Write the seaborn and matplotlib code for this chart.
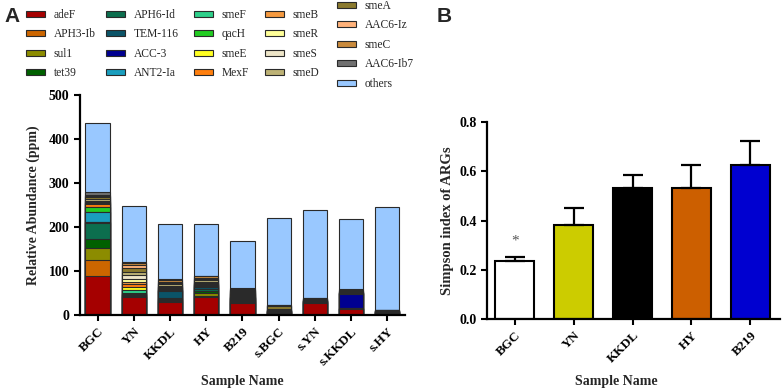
import numpy as np
import pandas as pd
import matplotlib
matplotlib.use('Agg')
import matplotlib.pyplot as plt
from matplotlib.patches import Patch
import seaborn as sns

# panel A: relative abundance of ARGs (ppm)
samples = ['BGC', 'YN', 'KKDL', 'HY', 'B219', 's.BGC', 's.YN', 's.KKDL', 's.HY']
genes = ['adeF', 'APH3-Ib', 'sul1', 'tet39', 'APH6-Id', 'TEM-116', 'ACC-3', 'ANT2-Ia',
         'smeF', 'qacH', 'smeE', 'MexF', 'smeB', 'smeR', 'smeS', 'smeD',
         'smeA', 'AAC6-Iz', 'smeC', 'AAC6-Ib7', 'others']
gene_colors = ['#a50000', '#cc6600', '#8c8c00', '#006000', '#0c6e4e', '#0b5468', '#000090', '#1a9ebe',
               '#2ed08a', '#22cc22', '#ffff22', '#ff7f0e', '#f59a40', '#ffff99', '#ede5c8', '#bdb276',
               '#8b7a2e', '#ffb27a', '#c98a3c', '#707070', '#99c8ff']

adeF = [90, 41, 30, 41, 28, 6, 27, 13, 6]
aph3_ib = [35, 1, 1, 2, 1, 0.5, 0.5, 0.5, 0.3]
sul1 = [27, 2, 3, 8, 3, 1, 2, 1, 0.5]
tet39 = [21, 2, 3, 4, 2, 0.5, 1, 0.5, 0.3]
aph6_id = [36, 2, 2, 5, 2, 0.5, 0.5, 0.5, 0.3]
tem116 = [3, 1, 15, 4, 2, 0.5, 0.5, 0.5, 0.3]
acc3 = [0, 0, 1, 1, 1, 0.5, 0.5, 33, 0.5]
ant2_ia = [23, 1, 1, 2, 1, 0.5, 0.5, 0.5, 0.3]
smeF = [0, 6, 1, 1, 1, 0, 0, 0, 0]
qacH = [10, 2, 1, 1, 1, 0, 0, 0, 0]
smeE = [0, 5, 1, 1, 2, 0.5, 0.5, 0.5, 0.3]
mexF = [8, 7, 2, 1, 2, 0.5, 0.5, 0.5, 0.3]
smeB = [2, 6, 2, 1, 2, 0.5, 0.5, 0.5, 0.3]
smeR = [2, 6, 2, 2, 2, 0.5, 0.5, 0.5, 0.3]
smeS = [2, 10, 2, 2, 2, 0.5, 0.5, 0.5, 0.3]
smeD = [4, 7, 3, 3, 2, 1, 1, 1, 0.5]
smeA = [5, 7, 4, 4, 2, 7, 1, 2, 0.5]
aac6_iz = [2, 8, 2, 2, 2, 0.5, 0.5, 0.5, 0.3]
smeC = [4, 5, 3, 3, 2, 1, 1, 1, 0.5]
aac6_ib7 = [5, 2, 3, 2, 2, 1, 1, 2, 1]
others = [157, 127, 124, 116, 106, 197, 198.5, 159.5, 232]

# panel B: Simpson index
samples_b = ['BGC', 'YN', 'KKDL', 'HY', 'B219']
simpson = [0.234, 0.381, 0.533, 0.533, 0.624]
simpson_err = [0.016, 0.071, 0.052, 0.091, 0.097]
colors_b = ['#ffffff', '#cccc00', '#000000', '#cc5f00', '#0000d0']

abund = pd.DataFrame(
    np.array([adeF, aph3_ib, sul1, tet39, aph6_id, tem116, acc3, ant2_ia, smeF, qacH, smeE,
              mexF, smeB, smeR, smeS, smeD, smeA, aac6_iz, smeC, aac6_ib7, others]).T,
    index=samples, columns=genes)
cum = abund.cumsum(axis=1)

sns.set_style('ticks')
plt.rcParams['font.family'] = ['Liberation Serif', 'DejaVu Serif']
plt.rcParams['font.weight'] = 'bold'
plt.rcParams['axes.labelweight'] = 'bold'

fig = plt.figure(figsize=(7.82, 3.91), dpi=100)
ax_a = fig.add_axes([0.102, 0.194, 0.416, 0.563])
ax_b = fig.add_axes([0.623, 0.184, 0.374, 0.504])

# stacked bars: draw cumulative totals from the top layer down
for gene, col in zip(genes[::-1], gene_colors[::-1]):
    sns.barplot(x=samples, y=cum[gene].values, color=col, saturation=1, width=0.67,
                edgecolor='#2a2a2a', linewidth=0.8, ax=ax_a)

ax_a.set_ylim(0, 500)
ax_a.set_xlim(-0.49, 8.49)
ax_a.set_yticks(range(0, 501, 100))
ax_a.set_ylabel('Relative Abundance (ppm)', fontsize=10, labelpad=6)
ax_a.set_xlabel('Sample Name', fontsize=10)
ax_a.xaxis.set_label_coords(0.5, -0.27)

# simpson bars
sns.barplot(x=samples_b, y=simpson, hue=samples_b, palette=colors_b, legend=False,
            saturation=1, width=0.66, edgecolor='black', linewidth=1.5, ax=ax_b)
ax_b.errorbar(range(len(samples_b)), simpson, yerr=[np.zeros(len(simpson)), simpson_err],
              fmt='none', ecolor='black', elinewidth=1.6, capsize=7, capthick=1.6)
ax_b.text(0, 0.318, '*', ha='center', va='center', fontsize=11, color='#555555',
          fontweight='normal')
ax_b.set_ylim(0, 0.8)
ax_b.set_xlim(-0.47, 4.5)
ax_b.set_yticks([0.0, 0.2, 0.4, 0.6, 0.8])
ax_b.set_yticklabels(['0.0', '0.2', '0.4', '0.6', '0.8'])
ax_b.set_ylabel('Simpson index of ARGs', fontsize=10.5)
ax_b.set_xlabel('Sample Name', fontsize=10)
ax_b.xaxis.set_label_coords(0.44, -0.285)

for ax in (ax_a, ax_b):
    sns.despine(ax=ax)
    for s in ('left', 'bottom'):
        ax.spines[s].set_linewidth(1.6)
        ax.spines[s].set_color('black')
    ax.tick_params(axis='both', width=1.5, length=4, color='black', labelcolor='black')
    ax.tick_params(axis='y', labelsize=10)
    ax.tick_params(axis='x', labelsize=9.5)
    for lab in ax.get_xticklabels():
        lab.set_rotation(45)
        lab.set_ha('right')
        lab.set_rotation_mode('anchor')
        lab.set_fontweight('bold')
    for lab in ax.get_yticklabels():
        lab.set_fontweight('bold')

# legend: one column of entries per block, placed like the original
handles = [Patch(facecolor=c, edgecolor='#2a2a2a', linewidth=0.8, label=g)
           for g, c in zip(genes, gene_colors)]
leg_kw = dict(frameon=False, handlelength=1.62, handleheight=0.45,
              handletextpad=0.8, labelspacing=0.65, borderpad=0, borderaxespad=0,
              prop={'family': ['Liberation Serif'], 'weight': 'normal', 'size': 8.3})
col_x = [26, 106, 194, 265, 337]
col_top = [9, 9, 9, 9, 0]
col_items = [handles[0:4], handles[4:8], handles[8:12], handles[12:16], handles[16:21]]
for x0, y0, items in zip(col_x, col_top, col_items):
    fig.legend(handles=items, ncol=1, loc='upper left',
               bbox_to_anchor=(x0 / 782, 1 - y0 / 391), **leg_kw)

fig.text(0.006, 0.945, 'A', fontsize=15, fontweight='bold', family='Liberation Sans')
fig.text(0.558, 0.945, 'B', fontsize=15, fontweight='bold', family='Liberation Sans')

fig.savefig('out.png', dpi=100)
